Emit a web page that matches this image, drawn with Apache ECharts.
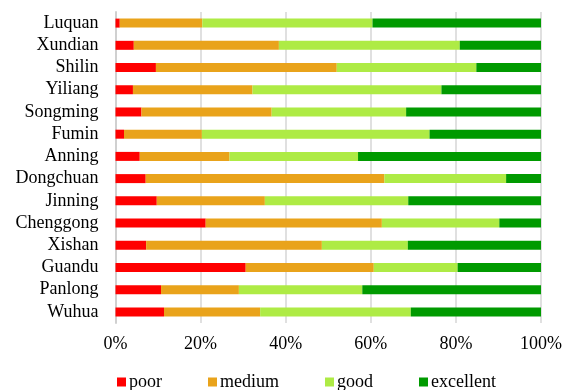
<!DOCTYPE html>
<html>
<head>
<meta charset="utf-8">
<script src="https://cdn.jsdelivr.net/npm/echarts@6/dist/echarts.min.js"></script>
<style>
  html, body { margin: 0; padding: 0; background: #fff; }
  #chart { width: 565px; height: 390px; }
</style>
</head>
<body>
<div id="chart"></div>
<script>
// districts, top to bottom
var categories = ['Luquan','Xundian','Shilin','Yiliang','Songming','Fumin','Anning',
    'Dongchuan','Jinning','Chenggong','Xishan','Guandu','Panlong','Wuhua'];
// shares in %
var poor      = [1.0, 4.3, 9.5, 4.1, 6.1, 2.0, 5.7, 7.1, 9.7, 21.2, 7.2, 30.6, 10.7, 11.4];
var medium    = [19.4, 34.1, 42.5, 28.1, 30.6, 18.3, 21.1, 56.1, 25.4, 41.4, 41.3, 30.1, 18.3, 22.6];
var good      = [40.0, 42.5, 32.8, 44.4, 31.6, 53.5, 30.2, 28.6, 33.7, 27.6, 20.2, 19.7, 29.0, 35.4];
var excellent = [39.6, 19.1, 15.2, 23.4, 31.7, 26.2, 43.0, 8.2, 31.2, 9.8, 31.3, 19.6, 42.0, 30.6];
var xTicks = [0, 20, 40, 60, 80, 100];

var seriesNames = ['poor', 'medium', 'good', 'excellent'];
var seriesData = [poor, medium, good, excellent];
var colors = ['#ff0000', '#e9a31b', '#aeeb45', '#009a00'];

var chart = echarts.init(document.getElementById('chart'));
var font = '"Liberation Serif", "Times New Roman", serif';

var series = [];
for (var i = 0; i < seriesNames.length; i++) {
    series.push({
        name: seriesNames[i],
        type: 'bar',
        stack: 'total',
        barWidth: 9,
        itemStyle: { color: colors[i] },
        data: seriesData[i]
    });
}

chart.setOption({
    animation: false,
    textStyle: { fontFamily: font },
    grid: { left: 115.5, right: 23, top: 12, bottom: 67 },
    legend: {
        data: seriesNames,
        left: 112,
        top: 368,
        itemWidth: 9,
        itemHeight: 9,
        itemGap: 46,
        icon: 'rect',
        textStyle: { fontFamily: font, fontSize: 18, color: '#000', padding: [0, 0, 0, -2] }
    },
    xAxis: {
        type: 'value',
        min: xTicks[0],
        max: xTicks[xTicks.length - 1],
        interval: 20,
        axisLine: { show: false },
        axisTick: { show: false },
        axisLabel: { formatter: '{value}%', fontFamily: font, fontSize: 18, color: '#000', margin: 12 },
        splitLine: { show: true, lineStyle: { color: '#d6d6d6', width: 1.5 } }
    },
    yAxis: {
        type: 'category',
        inverse: true,
        data: categories,
        axisLine: { show: true, lineStyle: { color: '#d0d0d0', width: 2 } },
        axisTick: { show: false },
        axisLabel: { interval: 0, fontFamily: font, fontSize: 18, color: '#000', margin: 17 }
    },
    series: series
});
</script>
</body>
</html>
